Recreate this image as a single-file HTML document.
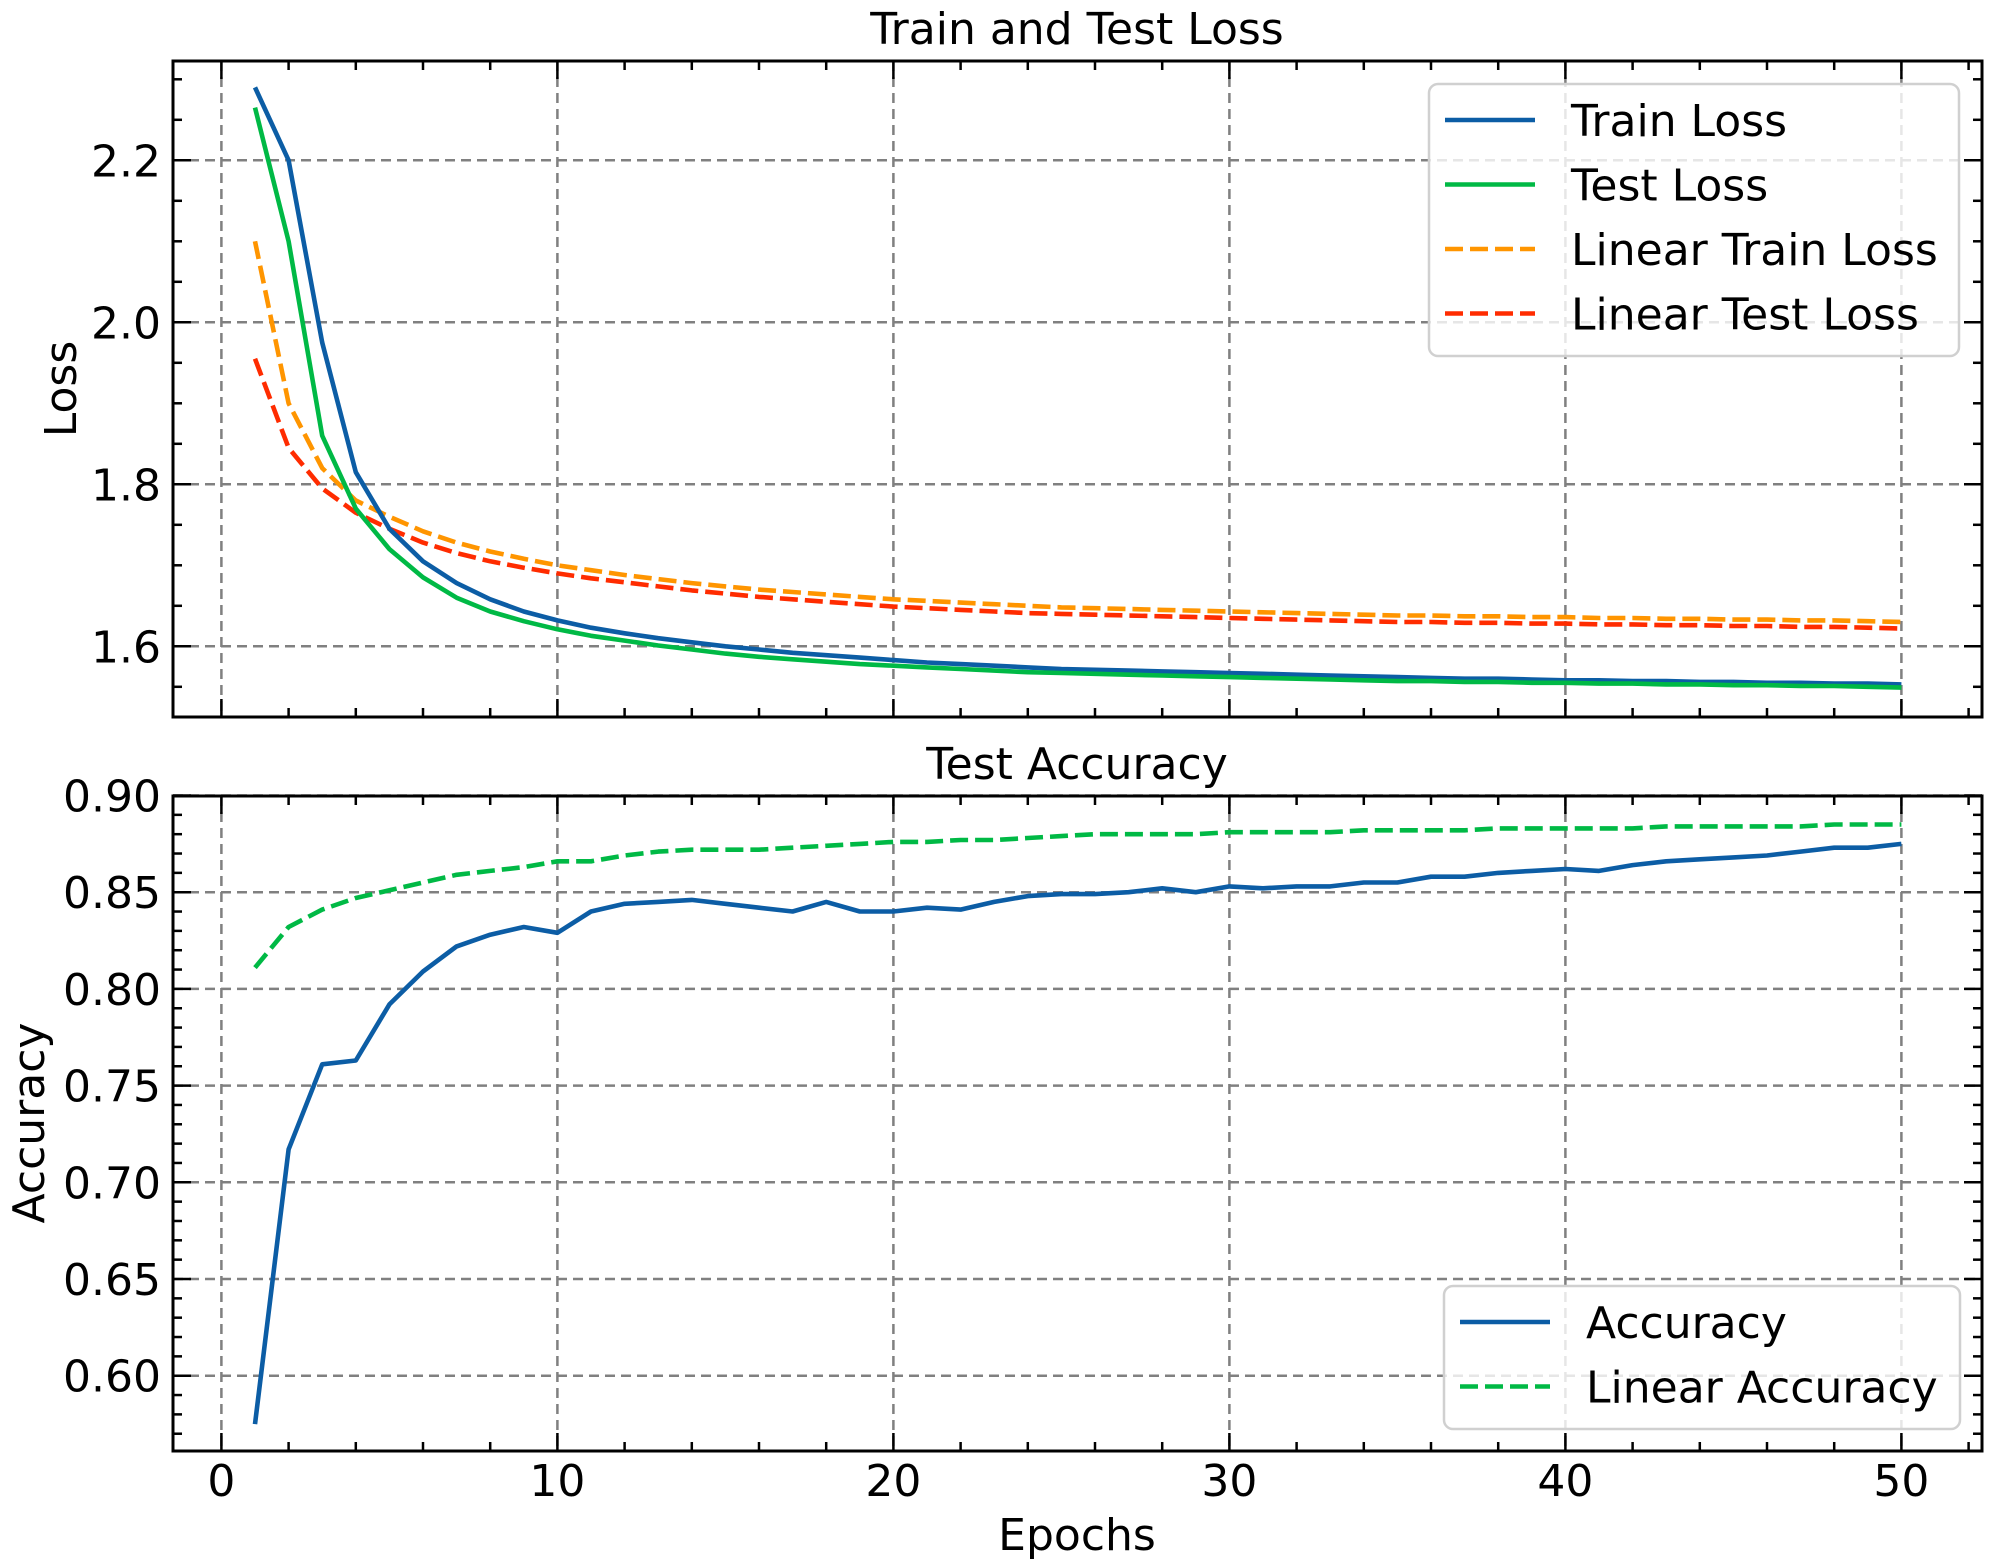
<!DOCTYPE html>
<html><head><meta charset="utf-8"><style>
html,body{margin:0;padding:0;background:#fff}
svg{display:block;font-family:"DejaVu Sans","Liberation Sans",sans-serif}
</style></head><body>
<svg id="fig" width="1991" height="1568" viewBox="0 0 1991 1568" xmlns="http://www.w3.org/2000/svg"></svg>
<script>
const epochs = Array.from({length:50},(_,i)=>i+1);
const trainLoss=[2.29,2.20,1.975,1.815,1.745,1.705,1.678,1.658,1.643,1.632,1.623,1.616,1.610,1.605,1.600,1.596,1.592,1.589,1.586,1.583,1.580,1.578,1.576,1.574,1.572,1.571,1.570,1.569,1.568,1.567,1.566,1.565,1.564,1.563,1.562,1.561,1.560,1.560,1.559,1.558,1.558,1.557,1.557,1.556,1.556,1.555,1.555,1.554,1.554,1.553];
const testLoss=[2.265,2.10,1.86,1.77,1.72,1.685,1.66,1.643,1.631,1.621,1.613,1.607,1.601,1.596,1.591,1.587,1.584,1.581,1.578,1.576,1.574,1.572,1.570,1.568,1.567,1.566,1.565,1.564,1.563,1.562,1.561,1.560,1.559,1.558,1.557,1.557,1.556,1.556,1.555,1.555,1.554,1.554,1.553,1.553,1.552,1.552,1.551,1.551,1.550,1.549];
const linTrainLoss=[2.10,1.90,1.82,1.78,1.76,1.742,1.728,1.717,1.708,1.700,1.694,1.688,1.683,1.678,1.674,1.670,1.667,1.664,1.661,1.658,1.656,1.654,1.652,1.650,1.648,1.647,1.646,1.645,1.644,1.643,1.642,1.641,1.640,1.639,1.638,1.638,1.637,1.637,1.636,1.636,1.635,1.635,1.634,1.634,1.633,1.633,1.632,1.632,1.631,1.630];
const linTestLoss=[1.955,1.845,1.795,1.765,1.745,1.728,1.715,1.705,1.697,1.690,1.684,1.679,1.674,1.669,1.665,1.661,1.658,1.655,1.652,1.649,1.647,1.645,1.643,1.641,1.640,1.639,1.638,1.637,1.636,1.635,1.634,1.633,1.632,1.631,1.630,1.630,1.629,1.629,1.628,1.628,1.627,1.627,1.626,1.626,1.625,1.625,1.624,1.624,1.623,1.622];
const accuracy=[0.575,0.717,0.761,0.763,0.792,0.809,0.822,0.828,0.832,0.829,0.840,0.844,0.845,0.846,0.844,0.842,0.840,0.845,0.840,0.840,0.842,0.841,0.845,0.848,0.849,0.849,0.850,0.852,0.850,0.853,0.852,0.853,0.853,0.855,0.855,0.858,0.858,0.860,0.861,0.862,0.861,0.864,0.866,0.867,0.868,0.869,0.871,0.873,0.873,0.875];
const linAccuracy=[0.811,0.832,0.841,0.847,0.851,0.855,0.859,0.861,0.863,0.866,0.866,0.869,0.871,0.872,0.872,0.872,0.873,0.874,0.875,0.876,0.876,0.877,0.877,0.878,0.879,0.880,0.880,0.880,0.880,0.881,0.881,0.881,0.881,0.882,0.882,0.882,0.882,0.883,0.883,0.883,0.883,0.883,0.884,0.884,0.884,0.884,0.884,0.885,0.885,0.885];
const xTicks=[0,10,20,30,40,50];
const lossTicks=[1.6,1.8,2.0,2.2];
const accTicks=[0.60,0.65,0.70,0.75,0.80,0.85,0.90];

const NS="http://www.w3.org/2000/svg";
const svg=document.getElementById('fig');
function mk(tag,attrs,parent){const e=document.createElementNS(NS,tag);for(const k in attrs)e.setAttribute(k,attrs[k]);(parent||svg).appendChild(e);return e;}
const L=173,R=1982;
const xScale=e=>221.4+33.6*e;
const lossY=v=>322.3-(v-2.0)*810;
const accY=v=>1375.7-(v-0.60)*1934;

function panel(name,top,bottom,yScale,yTicks,yMinorStep,yMin,yMax,fmt,showXLabels){
  const g=mk('g',{});
  
  
  xTicks.forEach(t=>{const l=mk('line',{x1:xScale(t),x2:xScale(t),y1:top,y2:bottom,stroke:'#808080','stroke-width':2.5,'stroke-dasharray':'10,6'},g);
    });
  yTicks.forEach(t=>{const l=mk('line',{x1:L,x2:R,y1:yScale(t),y2:yScale(t),stroke:'#808080','stroke-width':2.5,'stroke-dasharray':'10,6'},g);
    });
  for(let e=0;e<=52;e+=2){const maj=e%10===0;const len=maj?18:9;const x=xScale(e);
    mk('line',{x1:x,x2:x,y1:bottom,y2:bottom-len,stroke:'#000','stroke-width':2.5},g);
    mk('line',{x1:x,x2:x,y1:top,y2:top+len,stroke:'#000','stroke-width':2.5},g);}
  for(let k=Math.ceil(yMin/yMinorStep);k*yMinorStep<=yMax;k++){const v=k*yMinorStep;const y=yScale(v);
    const maj=yTicks.some(t=>Math.abs(t-v)<1e-6);const len=maj?18:9;
    mk('line',{x1:L,x2:L+len,y1:y,y2:y,stroke:'#000','stroke-width':2.5},g);
    mk('line',{x1:R,x2:R-len,y1:y,y2:y,stroke:'#000','stroke-width':2.5},g);}
  yTicks.forEach(t=>{const tx=mk('text',{x:L-12,y:yScale(t)+16,'text-anchor':'end','font-size':44},g);tx.textContent=fmt(t);
    });
  if(showXLabels)xTicks.forEach(t=>{const tx=mk('text',{x:xScale(t),y:1496,'text-anchor':'middle','font-size':44},g);tx.textContent=t;
    });
  return g;
}
function line(g,name,ys,yScale,color,dash){
  const d=epochs.map((e,i)=>(i?'L':'M')+xScale(e).toFixed(1)+','+yScale(ys[i]).toFixed(1)).join('');
  const p=mk('path',{d:d,fill:'none',stroke:color,'stroke-width':4.6,'stroke-linejoin':'round'},g);
  if(dash)p.setAttribute('stroke-dasharray','18,7');
  
  
}
function legend(name,x,y,w,h,items){
  const g=mk('g',{});
  
  
  mk('rect',{x:x,y:y,width:w,height:h,rx:9,fill:'rgba(255,255,255,0.8)',stroke:'#d0d0d0','stroke-width':2.5},g);
  items.forEach((it,i)=>{const cy=y+36+i*64.5;
    const l=mk('line',{x1:x+16,x2:x+106,y1:cy,y2:cy,stroke:it[1],'stroke-width':4.6},g);
    if(it[2])l.setAttribute('stroke-dasharray','18,7');
    const t=mk('text',{x:x+142,y:cy+16,'font-size':44},g);t.textContent=it[0];
    });
}
const BLUE='#0C5DA5',GREEN='#00B945',ORANGE='#FF9500',RED='#FF2C00';
const g1=panel('loss-panel',61,717,lossY,lossTicks,0.05,1.52,2.32,v=>v.toFixed(1),false);
line(g1,'linear-train-loss-line',linTrainLoss,lossY,ORANGE,true);
line(g1,'linear-test-loss-line',linTestLoss,lossY,RED,true);
line(g1,'train-loss-line',trainLoss,lossY,BLUE,false);
line(g1,'test-loss-line',testLoss,lossY,GREEN,false);
mk('rect',{x:L,y:61,width:R-L,height:656,fill:'none',stroke:'#000','stroke-width':3});
legend('loss-legend',1429,84,530,272,[['Train Loss',BLUE,0],['Test Loss',GREEN,0],['Linear Train Loss',ORANGE,1],['Linear Test Loss',RED,1]]);
const g2=panel('accuracy-panel',796,1451,accY,accTicks,0.01,0.57,0.9,v=>v.toFixed(2),true);
line(g2,'linear-accuracy-line',linAccuracy,accY,GREEN,true);
line(g2,'accuracy-line',accuracy,accY,BLUE,false);
mk('rect',{x:L,y:796,width:R-L,height:655,fill:'none',stroke:'#000','stroke-width':3});
legend('accuracy-legend',1444,1286,516,143,[['Accuracy',BLUE,0],['Linear Accuracy',GREEN,1]]);
function txt(name,s,x,y,extra){const t=mk('text',Object.assign({x:x,y:y,'text-anchor':'middle','font-size':44},extra||{}));t.textContent=s;
  }
txt('loss-title','Train and Test Loss',1077,44);
txt('accuracy-title','Test Accuracy',1077,779);
txt('x-axis-title','Epochs',1077,1550);
txt('loss-y-axis-title','Loss',76,389,{transform:'rotate(-90 76 389)'});
txt('accuracy-y-axis-title','Accuracy',44,1123,{transform:'rotate(-90 44 1123)'});
</script>
</body></html>
